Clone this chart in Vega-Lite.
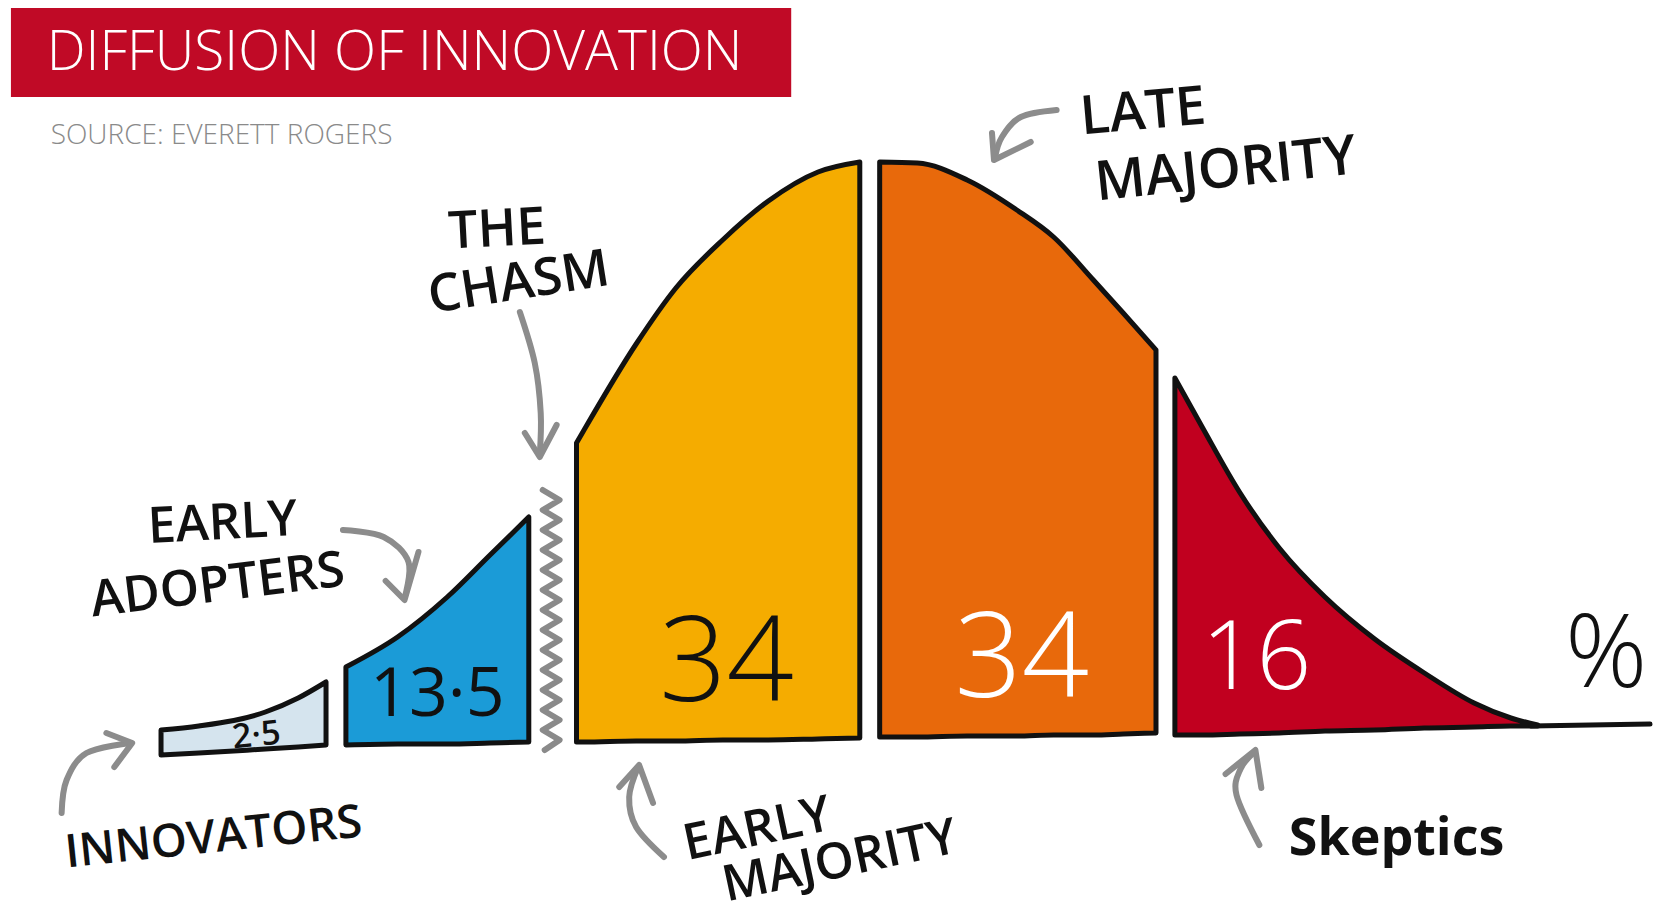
{
  "$schema": "https://vega.github.io/schema/vega-lite/v6.json",
  "width": 1660,
  "height": 916,
  "autosize": {"type": "fit", "contains": "padding"},
  "padding": 0,
  "background": "#ffffff",
  "config": {"view": {"stroke": null}},
  "datasets": {
    "curve": [
      {"group": "Innovators", "x": 162, "y": 730, "base": 755},
      {"group": "Innovators", "x": 200, "y": 726, "base": 753},
      {"group": "Innovators", "x": 267, "y": 712, "base": 749},
      {"group": "Innovators", "x": 300, "y": 698, "base": 747},
      {"group": "Innovators", "x": 328, "y": 682, "base": 745},
      {"group": "Early adopters", "x": 348, "y": 667, "base": 745},
      {"group": "Early adopters", "x": 400, "y": 637, "base": 744},
      {"group": "Early adopters", "x": 450, "y": 597, "base": 744},
      {"group": "Early adopters", "x": 493, "y": 555, "base": 743},
      {"group": "Early adopters", "x": 532, "y": 517, "base": 742},
      {"group": "Early majority", "x": 580, "y": 443, "base": 742},
      {"group": "Early majority", "x": 587, "y": 431, "base": 742},
      {"group": "Early majority", "x": 640, "y": 344, "base": 741},
      {"group": "Early majority", "x": 680, "y": 288, "base": 741},
      {"group": "Early majority", "x": 727, "y": 240, "base": 740},
      {"group": "Early majority", "x": 773, "y": 201, "base": 740},
      {"group": "Early majority", "x": 823, "y": 172, "base": 739},
      {"group": "Early majority", "x": 865, "y": 162, "base": 738},
      {"group": "Late majority", "x": 885, "y": 162, "base": 737},
      {"group": "Late majority", "x": 923, "y": 163, "base": 737},
      {"group": "Late majority", "x": 973, "y": 180, "base": 736},
      {"group": "Late majority", "x": 1023, "y": 210, "base": 736},
      {"group": "Late majority", "x": 1060, "y": 237, "base": 735},
      {"group": "Late majority", "x": 1100, "y": 280, "base": 735},
      {"group": "Late majority", "x": 1130, "y": 313, "base": 734},
      {"group": "Late majority", "x": 1163, "y": 350, "base": 733},
      {"group": "Laggards", "x": 1182, "y": 378, "base": 735},
      {"group": "Laggards", "x": 1210, "y": 428, "base": 735},
      {"group": "Laggards", "x": 1247, "y": 492, "base": 734},
      {"group": "Laggards", "x": 1287, "y": 548, "base": 733},
      {"group": "Laggards", "x": 1333, "y": 597, "base": 731},
      {"group": "Laggards", "x": 1383, "y": 639, "base": 730},
      {"group": "Laggards", "x": 1433, "y": 673, "base": 728},
      {"group": "Laggards", "x": 1483, "y": 703, "base": 727},
      {"group": "Laggards", "x": 1520, "y": 718, "base": 726},
      {"group": "Laggards", "x": 1547, "y": 725, "base": 726}
    ],
    "tail": [
      {"x": 1540, "y": 726},
      {"x": 1660, "y": 724}
    ],
    "chasm": [
      {"i": 1, "x": 546, "y": 490}, {"i": 2, "x": 563, "y": 500},
      {"i": 3, "x": 546, "y": 510}, {"i": 4, "x": 563, "y": 520},
      {"i": 5, "x": 546, "y": 530}, {"i": 6, "x": 563, "y": 540},
      {"i": 7, "x": 546, "y": 550}, {"i": 8, "x": 563, "y": 560},
      {"i": 9, "x": 546, "y": 570}, {"i": 10, "x": 563, "y": 580},
      {"i": 11, "x": 546, "y": 590}, {"i": 12, "x": 563, "y": 600},
      {"i": 13, "x": 546, "y": 610}, {"i": 14, "x": 563, "y": 620},
      {"i": 15, "x": 546, "y": 630}, {"i": 16, "x": 563, "y": 640},
      {"i": 17, "x": 546, "y": 650}, {"i": 18, "x": 563, "y": 660},
      {"i": 19, "x": 546, "y": 670}, {"i": 20, "x": 563, "y": 680},
      {"i": 21, "x": 546, "y": 690}, {"i": 22, "x": 563, "y": 700},
      {"i": 23, "x": 546, "y": 710}, {"i": 24, "x": 563, "y": 720},
      {"i": 25, "x": 546, "y": 730}, {"i": 26, "x": 563, "y": 740},
      {"i": 27, "x": 548, "y": 750}
    ],
    "arrows": [
      {"id": "innov", "kind": "shaft", "i": 1, "x": 62, "y": 813},
      {"id": "innov", "kind": "shaft", "i": 2, "x": 67, "y": 780},
      {"id": "innov", "kind": "shaft", "i": 3, "x": 87, "y": 753},
      {"id": "innov", "kind": "shaft", "i": 4, "x": 131, "y": 743},
      {"id": "innov", "kind": "head", "i": 1, "x": 107, "y": 733},
      {"id": "innov", "kind": "head", "i": 2, "x": 133, "y": 743},
      {"id": "innov", "kind": "head", "i": 3, "x": 115, "y": 767},
      {"id": "adopt", "kind": "shaft", "i": 1, "x": 345, "y": 530},
      {"id": "adopt", "kind": "shaft", "i": 2, "x": 386, "y": 537},
      {"id": "adopt", "kind": "shaft", "i": 3, "x": 411, "y": 562},
      {"id": "adopt", "kind": "shaft", "i": 4, "x": 407, "y": 598},
      {"id": "adopt", "kind": "head", "i": 1, "x": 388, "y": 581},
      {"id": "adopt", "kind": "head", "i": 2, "x": 407, "y": 600},
      {"id": "adopt", "kind": "head", "i": 3, "x": 421, "y": 552},
      {"id": "chasm", "kind": "shaft", "i": 1, "x": 523, "y": 312},
      {"id": "chasm", "kind": "shaft", "i": 2, "x": 538, "y": 363},
      {"id": "chasm", "kind": "shaft", "i": 3, "x": 544, "y": 413},
      {"id": "chasm", "kind": "shaft", "i": 4, "x": 543, "y": 455},
      {"id": "chasm", "kind": "head", "i": 1, "x": 528, "y": 433},
      {"id": "chasm", "kind": "head", "i": 2, "x": 543, "y": 457},
      {"id": "chasm", "kind": "head", "i": 3, "x": 560, "y": 425},
      {"id": "late", "kind": "shaft", "i": 1, "x": 1063, "y": 110},
      {"id": "late", "kind": "shaft", "i": 2, "x": 1027, "y": 117},
      {"id": "late", "kind": "shaft", "i": 3, "x": 1008, "y": 137},
      {"id": "late", "kind": "shaft", "i": 4, "x": 1001, "y": 158},
      {"id": "late", "kind": "head", "i": 1, "x": 998, "y": 133},
      {"id": "late", "kind": "head", "i": 2, "x": 1000, "y": 160},
      {"id": "late", "kind": "head", "i": 3, "x": 1037, "y": 142},
      {"id": "early", "kind": "shaft", "i": 1, "x": 668, "y": 857},
      {"id": "early", "kind": "shaft", "i": 2, "x": 640, "y": 827},
      {"id": "early", "kind": "shaft", "i": 3, "x": 633, "y": 797},
      {"id": "early", "kind": "shaft", "i": 4, "x": 642, "y": 767},
      {"id": "early", "kind": "head", "i": 1, "x": 623, "y": 787},
      {"id": "early", "kind": "head", "i": 2, "x": 643, "y": 765},
      {"id": "early", "kind": "head", "i": 3, "x": 657, "y": 803},
      {"id": "skep", "kind": "shaft", "i": 1, "x": 1267, "y": 845},
      {"id": "skep", "kind": "shaft", "i": 2, "x": 1244, "y": 795},
      {"id": "skep", "kind": "shaft", "i": 3, "x": 1248, "y": 769},
      {"id": "skep", "kind": "shaft", "i": 4, "x": 1262, "y": 752},
      {"id": "skep", "kind": "head", "i": 1, "x": 1233, "y": 774},
      {"id": "skep", "kind": "head", "i": 2, "x": 1263, "y": 750},
      {"id": "skep", "kind": "head", "i": 3, "x": 1269, "y": 788}
    ]
  },
  "encoding": {
    "x": {"field": "x", "type": "quantitative", "scale": {"domain": [0, 1660], "nice": false, "zero": false}, "axis": null},
    "y": {"field": "y", "type": "quantitative", "stack": null, "scale": {"domain": [0, 916], "nice": false, "zero": false, "reverse": true}, "axis": null}
  },
  "layer": [
    {
      "data": {"values": [{"x": 11, "x2": 796, "y": 8, "y2": 97}]},
      "mark": {"type": "rect", "color": "#C00A26"},
      "encoding": {"x2": {"field": "x2"}, "y2": {"field": "y2"}}
    },
    {
      "data": {"values": [{"x": 397, "y": 53, "t": "DIFFUSION OF INNOVATION"}]},
      "mark": {"type": "text", "color": "#ffffff", "font": "Open Sans", "fontSize": 55, "fontWeight": 300, "align": "center", "baseline": "middle"},
      "encoding": {"text": {"field": "t"}}
    },
    {
      "data": {"values": [{"x": 51, "y": 136, "t": "SOURCE: EVERETT ROGERS"}]},
      "mark": {"type": "text", "color": "#8a8a8a", "font": "Open Sans", "fontSize": 28, "fontWeight": 300, "align": "left", "baseline": "middle"},
      "encoding": {"text": {"field": "t"}}
    },
    {
      "data": {"name": "curve"},
      "mark": {"type": "area", "interpolate": "monotone", "stroke": "#111111", "strokeWidth": 5, "strokeJoin": "round", "opacity": 1, "fillOpacity": 1},
      "encoding": {
        "y2": {"field": "base"},
        "color": {"field": "group", "type": "nominal", "legend": null,
          "scale": {"domain": ["Innovators", "Early adopters", "Early majority", "Late majority", "Laggards"],
                    "range": ["#D5E4EE", "#1B9BD7", "#F5AC00", "#E8690B", "#C1001F"]}}
      }
    },
    {
      "data": {"name": "tail"},
      "mark": {"type": "line", "color": "#111111", "strokeWidth": 5, "strokeCap": "round"},
      "encoding": {}
    },
    {
      "data": {"name": "chasm"},
      "mark": {"type": "line", "color": "#8a8a8a", "strokeWidth": 6, "strokeJoin": "round", "strokeCap": "round"},
      "encoding": {"order": {"field": "i", "type": "quantitative"}}
    },
    {
      "data": {"name": "arrows"},
      "transform": [{"filter": "datum.kind === 'shaft'"}],
      "mark": {"type": "line", "interpolate": "cardinal", "color": "#8c8c8c", "strokeWidth": 6, "strokeCap": "round"},
      "encoding": {"detail": {"field": "id"}, "order": {"field": "i", "type": "quantitative"}}
    },
    {
      "data": {"name": "arrows"},
      "transform": [{"filter": "datum.kind === 'head'"}],
      "mark": {"type": "line", "color": "#8c8c8c", "strokeWidth": 6, "strokeCap": "round", "strokeJoin": "round"},
      "encoding": {"detail": {"field": "id"}, "order": {"field": "i", "type": "quantitative"}}
    },
    {
      "data": {"values": [{"x": 258, "y": 736, "t": "2·5"}]},
      "mark": {"type": "text", "color": "#111111", "font": "Open Sans", "fontSize": 34, "fontWeight": 600, "angle": -6, "align": "center", "baseline": "middle"},
      "encoding": {"text": {"field": "t"}}
    },
    {
      "data": {"values": [{"x": 440, "y": 696, "t": "13·5"}]},
      "mark": {"type": "text", "color": "#111111", "font": "Open Sans", "fontSize": 68, "fontWeight": 400, "align": "center", "baseline": "middle"},
      "encoding": {"text": {"field": "t"}}
    },
    {
      "data": {"values": [{"x": 731, "y": 666, "t": "34"}]},
      "mark": {"type": "text", "color": "#111111", "font": "Open Sans", "fontSize": 118, "fontWeight": 300, "align": "center", "baseline": "middle"},
      "encoding": {"text": {"field": "t"}}
    },
    {
      "data": {"values": [{"x": 1028, "y": 662, "t": "34"}]},
      "mark": {"type": "text", "color": "#ffffff", "font": "Open Sans", "fontSize": 118, "fontWeight": 300, "align": "center", "baseline": "middle"},
      "encoding": {"text": {"field": "t"}}
    },
    {
      "data": {"values": [{"x": 1264, "y": 660, "t": "16"}]},
      "mark": {"type": "text", "color": "#ffffff", "font": "Open Sans", "fontSize": 96, "fontWeight": 300, "align": "center", "baseline": "middle"},
      "encoding": {"text": {"field": "t"}}
    },
    {
      "data": {"values": [{"x": 1616, "y": 656, "t": "%"}]},
      "mark": {"type": "text", "color": "#111111", "font": "Open Sans", "fontSize": 102, "fontWeight": 300, "align": "center", "baseline": "middle"},
      "encoding": {"text": {"field": "t"}}
    },
    {
      "data": {"values": [{"x": 215, "y": 838, "t": "INNOVATORS"}]},
      "mark": {"type": "text", "color": "#111111", "font": "Open Sans", "fontSize": 46, "fontWeight": 600, "angle": -6, "align": "center", "baseline": "middle"},
      "encoding": {"text": {"field": "t"}}
    },
    {
      "data": {"values": [{"x": 224, "y": 524, "t": "EARLY"}]},
      "mark": {"type": "text", "color": "#111111", "font": "Open Sans", "fontSize": 50, "fontWeight": 600, "angle": -3, "align": "center", "baseline": "middle"},
      "encoding": {"text": {"field": "t"}}
    },
    {
      "data": {"values": [{"x": 219, "y": 586, "t": "ADOPTERS"}]},
      "mark": {"type": "text", "color": "#111111", "font": "Open Sans", "fontSize": 50, "fontWeight": 600, "angle": -7, "align": "center", "baseline": "middle"},
      "encoding": {"text": {"field": "t"}}
    },
    {
      "data": {"values": [{"x": 500, "y": 230, "t": "THE"}]},
      "mark": {"type": "text", "color": "#111111", "font": "Open Sans", "fontSize": 52, "fontWeight": 600, "angle": -3, "align": "center", "baseline": "middle"},
      "encoding": {"text": {"field": "t"}}
    },
    {
      "data": {"values": [{"x": 522, "y": 283, "t": "CHASM"}]},
      "mark": {"type": "text", "color": "#111111", "font": "Open Sans", "fontSize": 52, "fontWeight": 600, "angle": -9, "align": "center", "baseline": "middle"},
      "encoding": {"text": {"field": "t"}}
    },
    {
      "data": {"values": [{"x": 1150, "y": 113, "t": "LATE"}]},
      "mark": {"type": "text", "color": "#111111", "font": "Open Sans", "fontSize": 54, "fontWeight": 600, "angle": -5, "align": "center", "baseline": "middle"},
      "encoding": {"text": {"field": "t"}}
    },
    {
      "data": {"values": [{"x": 1233, "y": 170, "t": "MAJORITY"}]},
      "mark": {"type": "text", "color": "#111111", "font": "Open Sans", "fontSize": 55, "fontWeight": 600, "angle": -6, "align": "center", "baseline": "middle"},
      "encoding": {"text": {"field": "t"}}
    },
    {
      "data": {"values": [{"x": 762, "y": 830, "t": "EARLY"}]},
      "mark": {"type": "text", "color": "#111111", "font": "Open Sans", "fontSize": 50, "fontWeight": 600, "angle": -12, "align": "center", "baseline": "middle"},
      "encoding": {"text": {"field": "t"}}
    },
    {
      "data": {"values": [{"x": 845, "y": 862, "t": "MAJORITY"}]},
      "mark": {"type": "text", "color": "#111111", "font": "Open Sans", "fontSize": 50, "fontWeight": 600, "angle": -12, "align": "center", "baseline": "middle"},
      "encoding": {"text": {"field": "t"}}
    },
    {
      "data": {"values": [{"x": 1405, "y": 839, "t": "Skeptics"}]},
      "mark": {"type": "text", "color": "#111111", "font": "Open Sans", "fontSize": 52, "fontWeight": 700, "align": "center", "baseline": "middle"},
      "encoding": {"text": {"field": "t"}}
    }
  ]
}
